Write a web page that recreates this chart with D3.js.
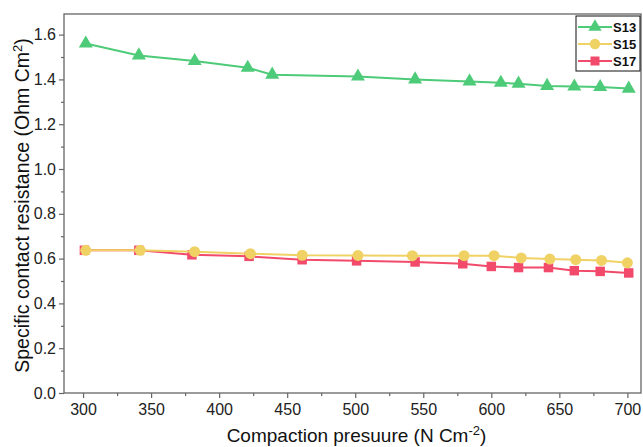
<!DOCTYPE html>
<html>
<head>
<meta charset="utf-8">
<script src="https://cdn.jsdelivr.net/npm/d3@7"></script>
<style>
  body { margin: 0; background: #fff; }
  text { font-family: "Liberation Sans", Arial, sans-serif; }
</style>
</head>
<body>
<div id="chart"></div>
<script>
const seriesNames = ["S13", "S15", "S17"];
const s13X = [302, 341, 382, 421, 439, 502, 544, 584, 607, 620, 641, 661, 680, 701];
const s13Y = [1.56, 1.507, 1.482, 1.452, 1.421, 1.413, 1.40, 1.391, 1.385, 1.381, 1.371, 1.368, 1.366, 1.359];
const s15X = [302, 342, 382, 423, 461, 502, 542, 580, 602, 622, 643, 662, 681, 700];
const s15Y = [0.637, 0.637, 0.631, 0.622, 0.615, 0.614, 0.613, 0.613, 0.613, 0.603, 0.598, 0.595, 0.592, 0.581];
const s17X = [301, 341, 380, 422, 461, 501, 544, 579, 600, 620, 642, 661, 680, 701];
const s17Y = [0.637, 0.637, 0.617, 0.610, 0.595, 0.590, 0.585, 0.577, 0.565, 0.560, 0.560, 0.546, 0.543, 0.536];
const xTicks = [300, 350, 400, 450, 500, 550, 600, 650, 700];
const yTicks = [0.0, 0.2, 0.4, 0.6, 0.8, 1.0, 1.2, 1.4, 1.6];

const colors = ["#4dcb78", "#f0d264", "#f24a6b"];
const shapes = [d3.symbolTriangle, d3.symbolCircle, d3.symbolSquare];
const sizes = [85, 95, 90];

const W = 643, H = 447;
const margin = { top: 14, right: 2, bottom: 54, left: 64 };
const width = W - margin.left - margin.right;
const height = H - margin.top - margin.bottom;

const svg = d3.select("#chart").append("svg")
  .attr("width", W).attr("height", H);

const g = svg.append("g")
  .attr("transform", `translate(${margin.left},${margin.top})`);

const x = d3.scaleLinear().domain([286, 710]).range([0, width]);
const y = d3.scaleLinear().domain([0, 1.692]).range([height, 0]);

const axisColor = "#666";

// frame
g.append("rect")
  .attr("width", width).attr("height", height)
  .attr("fill", "none").attr("stroke", axisColor).attr("stroke-width", 1.3);

// minor ticks
const xMinor = d3.range(325, 710, 50);
const yMinor = d3.range(0.1, 1.7, 0.2);

g.append("g")
  .attr("transform", `translate(0,${height})`)
  .call(d3.axisBottom(x).tickValues(xTicks).tickSize(5).tickPadding(6).tickFormat(d3.format("d")));
g.append("g")
  .attr("transform", `translate(0,${height})`)
  .call(d3.axisBottom(x).tickValues(xMinor).tickSize(3).tickFormat(""));

g.append("g")
  .call(d3.axisLeft(y).tickValues(yTicks).tickSize(5).tickPadding(3).tickFormat(d3.format(".1f")));
g.append("g")
  .call(d3.axisLeft(y).tickValues(yMinor).tickSize(3).tickFormat(""));

g.selectAll(".domain").remove();
g.selectAll(".tick line").attr("stroke", axisColor).attr("stroke-width", 1.2);
g.selectAll(".tick text").attr("fill", "#222").style("font-size", "16px");

// axis titles
svg.append("text")
  .attr("x", margin.left + width / 2 + 4)
  .attr("y", 442)
  .attr("text-anchor", "middle")
  .style("font-size", "19px")
  .attr("fill", "#111")
  .html('Compaction presuure (N Cm<tspan dy="-7" font-size="13px">-2</tspan><tspan dy="7">)</tspan>');

svg.append("text")
  .attr("transform", `translate(29,${margin.top + height / 2 + 2}) rotate(-90)`)
  .attr("text-anchor", "middle")
  .style("font-size", "19.5px")
  .attr("fill", "#111")
  .html('Specific contact resistance (Ohm Cm<tspan dy="-7" font-size="13px">2</tspan><tspan dy="7">)</tspan>');

// series
const allSeries = [
  s13X.map((v, i) => [v, s13Y[i]]),
  s15X.map((v, i) => [v, s15Y[i]]),
  s17X.map((v, i) => [v, s17Y[i]])
];

const line = d3.line().x(d => x(d[0])).y(d => y(d[1]));

// S17 first, then S15 over it, then S13
[2, 1, 0].forEach(k => {
  g.append("path")
    .datum(allSeries[k])
    .attr("d", line)
    .attr("fill", "none")
    .attr("stroke", colors[k])
    .attr("stroke-width", 2);
  g.selectAll(".pt" + k)
    .data(allSeries[k])
    .enter()
    .append("path")
    .attr("class", "pt" + k)
    .attr("transform", d => `translate(${x(d[0])},${y(d[1])})`)
    .attr("d", d3.symbol().type(shapes[k]).size(sizes[k]))
    .attr("fill", colors[k]);
});

// legend
const lg = svg.append("g").attr("transform", "translate(576,16)");
lg.append("rect")
  .attr("width", 64).attr("height", 55)
  .attr("fill", "#fff").attr("stroke", "#111").attr("stroke-width", 1);
seriesNames.forEach((name, i) => {
  const cy = 11 + i * 17;
  lg.append("line")
    .attr("x1", 2).attr("x2", 36).attr("y1", cy).attr("y2", cy)
    .attr("stroke", colors[i]).attr("stroke-width", 2);
  lg.append("path")
    .attr("transform", `translate(19,${cy})`)
    .attr("d", d3.symbol().type(shapes[i]).size(sizes[i] * 0.9))
    .attr("fill", colors[i]);
  lg.append("text")
    .attr("x", 37).attr("y", cy + 5)
    .style("font-size", "13px").style("font-weight", "bold")
    .attr("fill", "#111")
    .text(name);
});
</script>
</body>
</html>
